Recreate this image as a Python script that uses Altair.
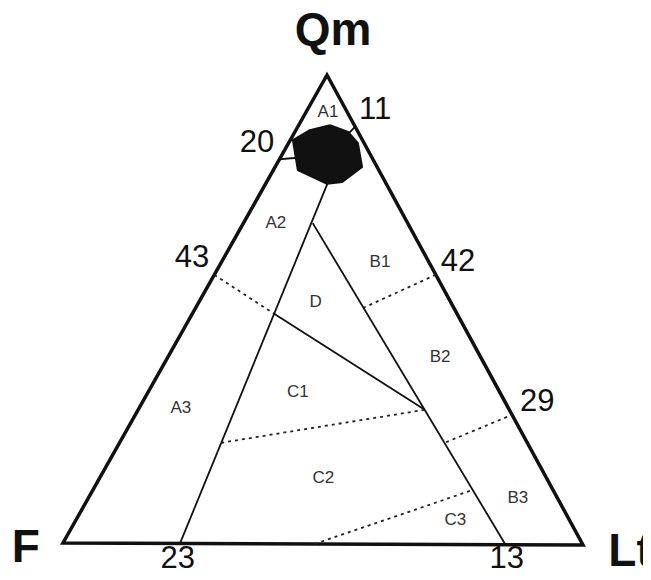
import altair as alt
import pandas as pd

# ---- data: ternary compositions in percent (Qm, F, Lt) ----
# outer triangle (closed, first side repeated so every corner is joined)
frame_qm = [100, 0, 0, 100, 0]
frame_f = [0, 100, 0, 0, 100]
frame_lt = [0, 0, 100, 0, 0]

# solid field boundaries
solid_line = ["s1", "s1", "s2", "s2", "s3", "s3", "a1", "a1", "a1"]
solid_qm = [77.2, 0.0, 68.4, 0.0, 49.2, 28.7, 82.0, 82.9, 89.0]
solid_f = [11.0, 77.5, 18.3, 14.9, 35.4, 16.3, 18.0, 8.2, 0.0]
solid_lt = [11.8, 22.5, 13.3, 85.1, 15.4, 55.0, 0.0, 8.9, 11.0]

# dotted field boundaries
dotted_line = ["d1", "d1", "d2", "d2", "d3", "d3", "d4", "d4", "d5", "d5"]
dotted_qm = [57.3, 49.2, 57.5, 50.4, 21.5, 28.7, 21.8, 27.7, 0.0, 11.6]
dotted_f = [42.7, 35.4, 0.0, 17.4, 59.0, 16.3, 15.6, 0.0, 51.6, 15.6]
dotted_lt = [0.0, 15.4, 42.5, 32.2, 19.5, 55.0, 62.6, 72.3, 48.4, 72.8]

# black data field (sample compositions outline)
blob_qm = [89.3, 87.9, 85.5, 80.4, 77.2, 76.8, 79.7, 86.1, 88.3, 89.3]
blob_f = [4.7, 1.9, 1.2, 2.9, 8.3, 11.4, 15.6, 13.4, 9.1, 4.7]
blob_lt = [6.0, 10.2, 13.3, 16.7, 14.5, 11.8, 4.7, 0.5, 2.7, 6.0]

# field names
field_labels = ["A1", "A2", "A3", "B1", "B2", "B3", "C1", "C2", "C3", "D"]
field_qm = [92.1, 68.4, 28.9, 60.2, 40.0, 10.0, 32.4, 14.1, 5.2, 51.6]
field_f = [3.7, 25.4, 63.1, 9.4, 7.8, 7.6, 38.9, 43.0, 22.0, 26.0]
field_lt = [4.2, 6.2, 8.0, 30.4, 52.2, 82.4, 28.7, 42.9, 72.8, 22.4]

# boundary values written along the sides
edge_labels = ["11", "20", "43", "42", "29", "23", "13"]
edge_qm = [92.6, 85.4, 60.9, 60.2, 30.5, -3.3, -3.0]
edge_f = [-5.6, 20.6, 45.2, -5.6, -6.2, 79.56, 16.16]
edge_lt = [13.0, -6.1, -6.1, 45.4, 75.7, 23.74, 86.84]

# pole names
pole_labels = ["Qm", "F", "Lt"]
pole_qm = [109.4, -1.1, -1.5]
pole_f = [-5.8, 107.7, -8.3]
pole_lt = [-3.6, -6.6, 109.8]

# ---- layout: where the three poles sit on the page ----
QM_PT = (327, 75)
F_PT = (63, 543)
LT_PT = (583, 545)


def tern(qm, f, lt, **extra):
    df = pd.DataFrame(dict(cq=qm, cf=f, cl=lt, **extra))
    s = df["cq"] + df["cf"] + df["cl"]
    df["x"] = (df["cq"] * QM_PT[0] + df["cf"] * F_PT[0] + df["cl"] * LT_PT[0]) / s
    df["y"] = (df["cq"] * QM_PT[1] + df["cf"] * F_PT[1] + df["cl"] * LT_PT[1]) / s
    df["i"] = range(len(df))
    return df


X = alt.X("x:Q", scale=alt.Scale(domain=[8, 643], nice=False, zero=False), axis=None)
Y = alt.Y("y:Q", scale=alt.Scale(domain=[8, 572], nice=False, zero=False, reverse=True), axis=None)
O = alt.Order("i:Q")

blob = alt.Chart(tern(blob_qm, blob_f, blob_lt)).mark_line(
    fill="#111111", stroke="#111111", strokeWidth=2, strokeJoin="round"
).encode(x=X, y=Y, order=O)

frame = alt.Chart(tern(frame_qm, frame_f, frame_lt)).mark_line(
    color="#111111", strokeWidth=3.5, strokeJoin="miter"
).encode(x=X, y=Y, order=O)

solid = alt.Chart(tern(solid_qm, solid_f, solid_lt, line=solid_line)).mark_line(
    color="#111111", strokeWidth=1.8
).encode(x=X, y=Y, order=O, detail="line:N")

dotted = alt.Chart(tern(dotted_qm, dotted_f, dotted_lt, line=dotted_line)).mark_line(
    color="#222222", strokeWidth=1.8, strokeDash=[3, 4]
).encode(x=X, y=Y, order=O, detail="line:N")

fields = alt.Chart(tern(field_qm, field_f, field_lt, label=field_labels)).mark_text(
    font="Liberation Sans", fontSize=17, color="#333333", align="center", baseline="middle"
).encode(x=X, y=Y, text="label:N")

edges = alt.Chart(tern(edge_qm, edge_f, edge_lt, label=edge_labels)).mark_text(
    font="Liberation Sans", fontSize=31, color="#111111", align="center", baseline="middle"
).encode(x=X, y=Y, text="label:N")

poles = alt.Chart(tern(pole_qm, pole_f, pole_lt, label=pole_labels)).mark_text(
    font="Liberation Sans", fontSize=46, fontWeight="bold", color="#111111",
    align="center", baseline="middle"
).encode(x=X, y=Y, text="label:N")

chart = alt.layer(frame, solid, dotted, blob, fields, edges, poles).properties(
    width=635, height=564, autosize=alt.AutoSizeParams(type="none"), padding=0
).configure_view(stroke=None)

chart.save("out.html", embed_options={"renderer": "svg", "actions": False})
